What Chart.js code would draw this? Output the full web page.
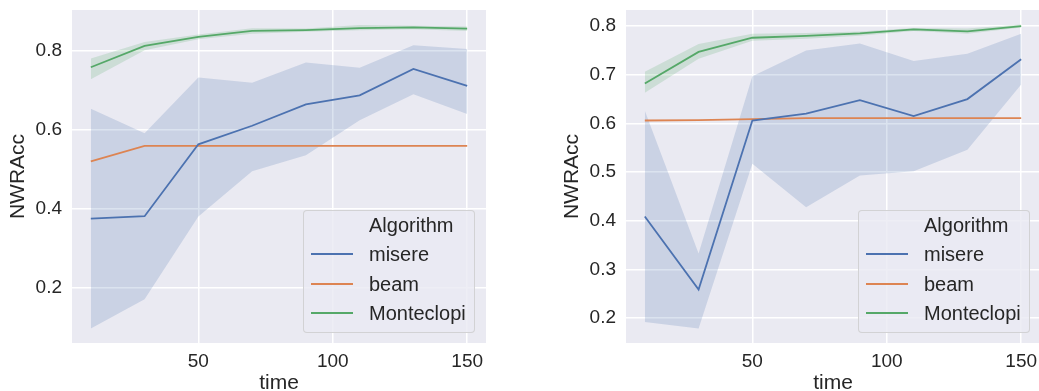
<!DOCTYPE html>
<html>
<head>
<meta charset="utf-8">
<script src="https://cdn.jsdelivr.net/npm/chart.js@4.4.0/dist/chart.umd.min.js"></script>
<style>
  html, body { margin: 0; padding: 0; background: #ffffff; width: 1039px; height: 391px; overflow: hidden; }
  #wrap { position: relative; width: 1039px; height: 391px; overflow: hidden; }
  canvas { position: absolute; top: 0; }
  .legend { position: absolute; box-sizing: border-box; border: 1px solid rgba(204,204,204,0.8); border-radius: 4px; background: rgba(234,234,242,0.8); font-family: 'Liberation Sans', Arial, sans-serif; font-size: 20px; color: #262626; }
  .legend .t { position: absolute; height: 24px; line-height: 24px; white-space: nowrap; }
  .legend .ln { position: absolute; height: 2px; }
</style>
</head>
<body>
<div id="wrap">
  <canvas id="c1" width="500" height="391" style="left:0px"></canvas>
  <canvas id="c2" width="500" height="391" style="left:554px"></canvas>
</div>
<script>
// ---- data ----
const time = [10, 30, 50, 70, 90, 110, 130, 150];
const seriesNames = ['misere', 'beam', 'Monteclopi'];
const seriesColors = ['#4C72B0', '#DD8452', '#55A868'];
const xTicks = [50, 100, 150];

// left panel
const misereL   = [0.374, 0.380, 0.562, 0.609, 0.663, 0.686, 0.753, 0.710];
const misereLHi = [0.652, 0.590, 0.731, 0.718, 0.769, 0.756, 0.813, 0.803];
const misereLLo = [0.096, 0.170, 0.379, 0.494, 0.534, 0.623, 0.689, 0.639];
const beamL     = [0.519, 0.558, 0.558, 0.558, 0.558, 0.558, 0.558, 0.558];
const monteL    = [0.757, 0.811, 0.834, 0.849, 0.851, 0.856, 0.858, 0.855];
const monteLHi  = [0.779, 0.821, 0.840, 0.856, 0.855, 0.864, 0.862, 0.860];
const monteLLo  = [0.727, 0.800, 0.828, 0.842, 0.847, 0.851, 0.853, 0.849];
const yTicksL   = [0.2, 0.4, 0.6, 0.8];

// right panel
const misereR   = [0.409, 0.259, 0.606, 0.620, 0.648, 0.615, 0.650, 0.732];
const misereRHi = [0.626, 0.333, 0.697, 0.750, 0.764, 0.728, 0.743, 0.784];
const misereRLo = [0.192, 0.179, 0.517, 0.428, 0.493, 0.502, 0.546, 0.680];
const beamR     = [0.606, 0.607, 0.609, 0.611, 0.611, 0.611, 0.611, 0.611];
const monteR    = [0.682, 0.747, 0.776, 0.780, 0.785, 0.793, 0.789, 0.800];
const monteRHi  = [0.706, 0.763, 0.784, 0.786, 0.789, 0.796, 0.795, 0.803];
const monteRLo  = [0.663, 0.733, 0.770, 0.774, 0.780, 0.790, 0.784, 0.797];
const yTicksR   = [0.2, 0.3, 0.4, 0.5, 0.6, 0.7, 0.8];

// ---- chart building ----
const FONT = "'Liberation Sans', Arial, sans-serif";
const TXT = '#262626';
const pts = (arr) => arr.map((v, i) => ({x: time[i], y: v}));

const bgPlugin = {
  id: 'bg',
  beforeDraw(chart) {
    const a = chart.chartArea, ctx = chart.ctx;
    ctx.save();
    ctx.fillStyle = '#EAEAF2';
    ctx.fillRect(a.left, a.top, a.right - a.left, a.bottom - a.top);
    ctx.restore();
  }
};

function bandColor(hex) {
  const r = parseInt(hex.slice(1,3),16), g = parseInt(hex.slice(3,5),16), b = parseInt(hex.slice(5,7),16);
  return `rgba(${r},${g},${b},0.2)`;
}

function makeChart(id, lines, bands, yMin, yMax, yTicks) {
  const datasets = [];
  lines.forEach((vals, k) => {
    datasets.push({ label: seriesNames[k], data: pts(vals), borderColor: seriesColors[k], borderWidth: 1.8,
      pointRadius: 0, fill: false, tension: 0, order: 0 });
  });
  bands.forEach((b) => {
    if (!b) return;
    const [k, hi, lo] = b;
    datasets.push({ label: seriesNames[k] + ' hi', data: pts(hi), borderWidth: 0, borderColor: 'rgba(0,0,0,0)',
      backgroundColor: bandColor(seriesColors[k]), pointRadius: 0, fill: '+1', tension: 0, order: 1 });
    datasets.push({ label: seriesNames[k] + ' lo', data: pts(lo), borderWidth: 0, borderColor: 'rgba(0,0,0,0)',
      pointRadius: 0, fill: false, tension: 0, order: 1 });
  });
  const zeroPad = (s) => { s.paddingTop = 0; s.paddingBottom = 0; s.paddingLeft = 0; s.paddingRight = 0; };
  return new Chart(document.getElementById(id), {
    type: 'line',
    data: { datasets },
    plugins: [bgPlugin],
    options: {
      responsive: false,
      animation: false,
      devicePixelRatio: 1,
      layout: { padding: { top: 10, right: 14, bottom: 0, left: 0 } },
      plugins: { legend: { display: false }, tooltip: { enabled: false } },
      scales: {
        x: {
          type: 'linear', min: 3, max: 157,
          afterBuildTicks: (s) => { s.ticks = xTicks.map(v => ({value: v})); },
          afterFit: (s) => { s.height = 48; zeroPad(s); },
          border: { display: false },
          grid: { color: '#ffffff', lineWidth: 1.5, drawTicks: false },
          ticks: { color: TXT, font: { family: FONT, size: 19 }, padding: 7, maxRotation: 0,
                   callback: (v) => String(v) },
          title: { display: true, text: 'time', color: TXT, font: { family: FONT, size: 21, lineHeight: 0.7 },
                   padding: { top: 0, bottom: 0 } }
        },
        y: {
          type: 'linear', min: yMin, max: yMax,
          afterBuildTicks: (s) => { s.ticks = yTicks.map(v => ({value: v})); },
          afterFit: (s) => { s.width = 72; zeroPad(s); },
          border: { display: false },
          grid: { color: '#ffffff', lineWidth: 1.5, drawTicks: false },
          ticks: { color: TXT, font: { family: FONT, size: 19 }, padding: 10,
                   callback: (v) => Number(v).toFixed(1) },
          title: { display: true, text: 'NWRAcc', color: TXT, font: { family: FONT, size: 21 },
                   padding: { top: 6, bottom: 0 } }
        }
      }
    }
  });
}

makeChart('c1', [misereL, beamL, monteL], [[0, misereLHi, misereLLo], null, [2, monteLHi, monteLLo]], 0.059, 0.902, yTicksL);
makeChart('c2', [misereR, beamR, monteR], [[0, misereRHi, misereRLo], null, [2, monteRHi, monteRLo]], 0.149, 0.833, yTicksR);

// ---- legends (inside plot, lower right) ----
function makeLegend(left) {
  const box = document.createElement('div');
  box.className = 'legend';
  Object.assign(box.style, { left: left + 'px', top: '210px', width: '172px', height: '123px' });
  const title = document.createElement('div');
  title.className = 't';
  title.textContent = 'Algorithm';
  Object.assign(title.style, { left: '65px', top: (15 - 12 - 1) + 'px' });
  box.appendChild(title);
  const rowCenters = [44.3, 73.7, 103];
  seriesNames.forEach((name, k) => {
    const ln = document.createElement('div');
    ln.className = 'ln';
    Object.assign(ln.style, { left: '7px', width: '42px', top: (rowCenters[k] - 1 - 1) + 'px', background: seriesColors[k] });
    box.appendChild(ln);
    const t = document.createElement('div');
    t.className = 't';
    t.textContent = name;
    Object.assign(t.style, { left: '65px', top: (rowCenters[k] - 12 - 1) + 'px' });
    box.appendChild(t);
  });
  document.getElementById('wrap').appendChild(box);
}
makeLegend(303);
makeLegend(858);
</script>
</body>
</html>
